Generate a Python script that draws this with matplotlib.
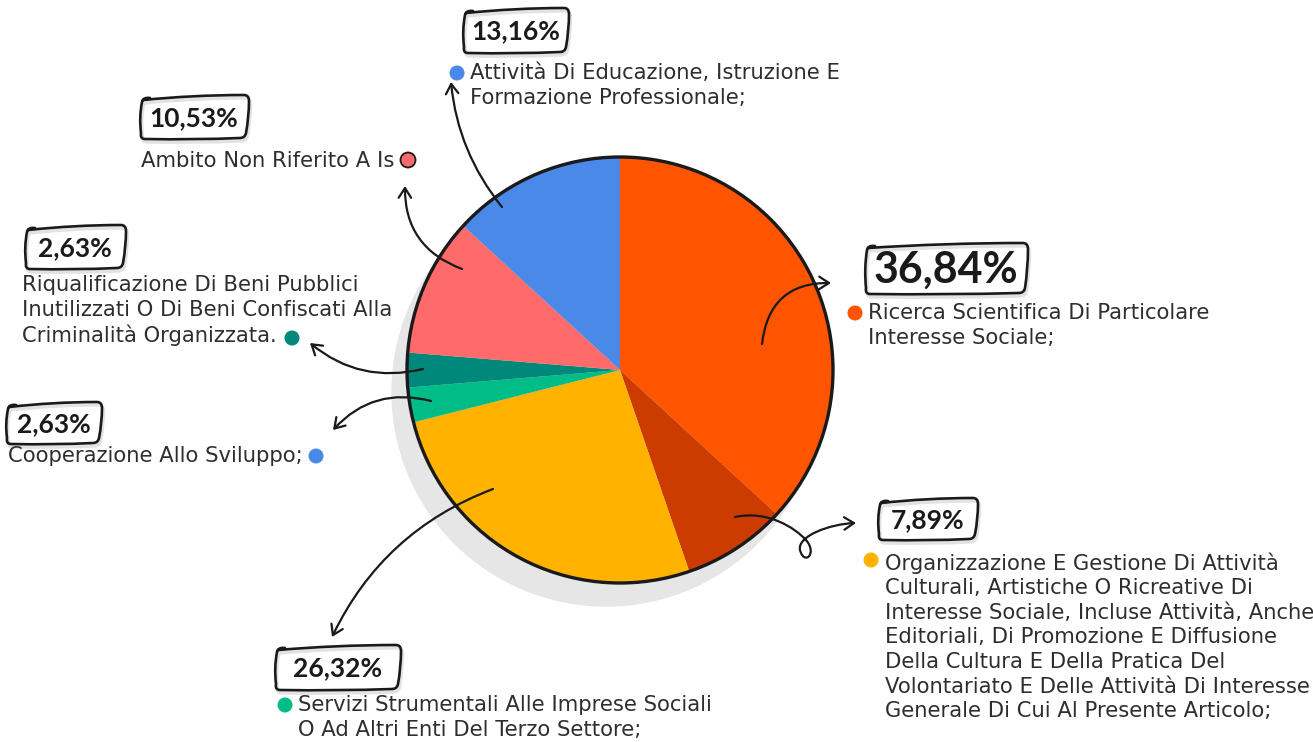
import matplotlib as mpl
mpl.use("agg")
import matplotlib.pyplot as plt
from matplotlib.patches import Circle, FancyArrowPatch, PathPatch
from matplotlib.path import Path

# data, clockwise from 12 o'clock
shares = [36.84, 7.89, 26.32, 2.63, 2.63, 10.53, 13.16]
slice_colors = ['#FF5400', '#CC3B00', '#FFB300', '#00BC87', '#00897B', '#FF6B6B', '#4A89E8']
pct_labels = ['36,84%', '7,89%', '26,32%', '2,63%', '2,63%', '10,53%', '13,16%']
names = [
    'Ricerca Scientifica Di Particolare\nInteresse Sociale;',
    'Organizzazione E Gestione Di Attività\nCulturali, Artistiche O Ricreative Di\n'
    'Interesse Sociale, Incluse Attività, Anche\nEditoriali, Di Promozione E Diffusione\n'
    'Della Cultura E Della Pratica Del\nVolontariato E Delle Attività Di Interesse\n'
    'Generale Di Cui Al Presente Articolo;',
    'Servizi Strumentali Alle Imprese Sociali\nO Ad Altri Enti Del Terzo Settore;',
    'Cooperazione Allo Sviluppo;',
    'Riqualificazione Di Beni Pubblici\nInutilizzati O Di Beni Confiscati Alla\nCriminalità Organizzata.',
    'Ambito Non Riferito A Is',
    'Attività Di Educazione, Istruzione E\nFormazione Professionale;',
]
dot_colors = ['#FF5400', '#FFB300', '#00BC87', '#4A89E8', '#00897B', '#FF6B6B', '#4A89E8']

W, H = 1313, 742
fig = plt.figure(figsize=(W / 100, H / 100), dpi=100)
ax = fig.add_axes([0, 0, 1, 1])

cx, cy, r = 620, 370, 213
ax.add_patch(Circle((cx - 14, cy + 22), r + 1, color='#E6E6E6', zorder=0))
ax.pie(shares, colors=slice_colors, center=(cx, cy), radius=r, startangle=-90,
       counterclock=True, wedgeprops=dict(linewidth=0), frame=True)
ax.set_xlim(0, W)
ax.set_ylim(H, 0)
ax.set_aspect('equal')
ax.axis('off')
ax.add_patch(Circle((cx, cy), r, fill=False, ec='#1a1a1a', lw=2.4, zorder=3))

txt = '#2e2e2e'
fs = 15.2


def sketch_box(x0, y0, x1, y1):
    mx, my = (x0 + x1) / 2, (y0 + y1) / 2
    verts = [(x0 + 3, y0 + 4),
             (mx, y0 - 1), (x1 - 4, y0 - 1),
             (x1 + 1, y0 - 1), (x1 + 1, y0 + 5),
             (x1 + 1, my), (x1 - 2, y1 - 5),
             (x1 - 3, y1), (x1 - 8, y1),
             (mx, y1 + 2), (x0 + 5, y1 + 1),
             (x0, y1 + 1), (x0 + 1, y1 - 5),
             (x0 - 1, my), (x0 + 2, y0 + 6),
             (x0 + 3, y0 + 1), (x0 + 10, y0 + 2)]
    codes = [Path.MOVETO] + [Path.CURVE3] * 16
    sh = [(px + 1.5, py + 3) for px, py in verts]
    ax.add_patch(PathPatch(Path(sh, codes), fill=False, ec='#e2e2e2', lw=2.4, zorder=4))
    ax.add_patch(PathPatch(Path(verts, codes), fill=False, ec='#1a1a1a', lw=1.9, zorder=5,
                           joinstyle='round', capstyle='round'))


def pct(x0, y0, x1, y1, s, size=19):
    sketch_box(x0, y0, x1, y1)
    ax.text((x0 + x1) / 2, (y0 + y1) / 2 + 1, s, fontsize=size, fontweight='bold',
            family='Lato', color='#1a1a1a', ha='center', va='center', zorder=6)


def label(x, y, s, dot=None, dot_color=None, outline=False):
    ax.text(x, y, s, fontsize=fs, color=txt, ha='left', va='top', linespacing=1.29, zorder=6)
    if dot is not None:
        ax.add_patch(Circle(dot, 7.5, color=dot_color, zorder=6,
                            ec='#1a1a1a' if outline else dot_color, lw=1.3 if outline else 0))


# percentage boxes and labels
pct(865, 244, 1027, 293, pct_labels[0], size=31)
label(868, 303, names[0], (855, 313), dot_colors[0])

pct(878, 499, 977, 539, pct_labels[1])
label(885, 552, names[1], (871, 560), dot_colors[1])

pct(275, 646, 400, 689, pct_labels[2])
label(298, 695, names[2], (285, 705), dot_colors[2])

pct(6, 403, 101, 443, pct_labels[3])
label(8, 446, names[3], (316, 456), dot_colors[3])

pct(25, 226, 125, 268, pct_labels[4])
label(22, 275, names[4], (292, 338), dot_colors[4])

pct(140, 96, 248, 138, pct_labels[5])
label(141, 151, names[5], (408, 160), dot_colors[5], outline=True)

pct(463, 9, 568, 52, pct_labels[6])
label(470, 63, names[6], (457, 73), dot_colors[6])


def arrow(p0, p1, rad):
    a = FancyArrowPatch(p0, p1, connectionstyle='arc3,rad=%s' % rad,
                        arrowstyle='->,head_length=7,head_width=4.5',
                        color='#1a1a1a', lw=1.6, zorder=7, shrinkA=0, shrinkB=0)
    ax.add_patch(a)


arrow((762, 344), (831, 283), -0.45)   # 36,84
arrow((502, 207), (451, 82), -0.15)    # 13,16
arrow((462, 269), (405, 186), -0.35)   # 10,53
arrow((423, 369), (310, 343), -0.25)   # 2,63 top
arrow((431, 401), (333, 430), 0.3)     # 2,63 bottom
arrow((493, 489), (332, 637), 0.2)     # 26,32

# squiggle with loop for 7,89
verts = [(735, 517), (768, 510), (795, 528), (806, 540),
         (818, 554), (804, 566), (800, 550),
         (797, 536), (830, 524), (856, 523)]
codes = [Path.MOVETO] + [Path.CURVE4] * 9
ax.add_patch(FancyArrowPatch(path=Path(verts, codes), arrowstyle='->,head_length=7,head_width=4.5',
                             color='#1a1a1a', lw=1.6, zorder=7, shrinkA=0, shrinkB=0))

fig.savefig('out.png', dpi=100, facecolor='white')
